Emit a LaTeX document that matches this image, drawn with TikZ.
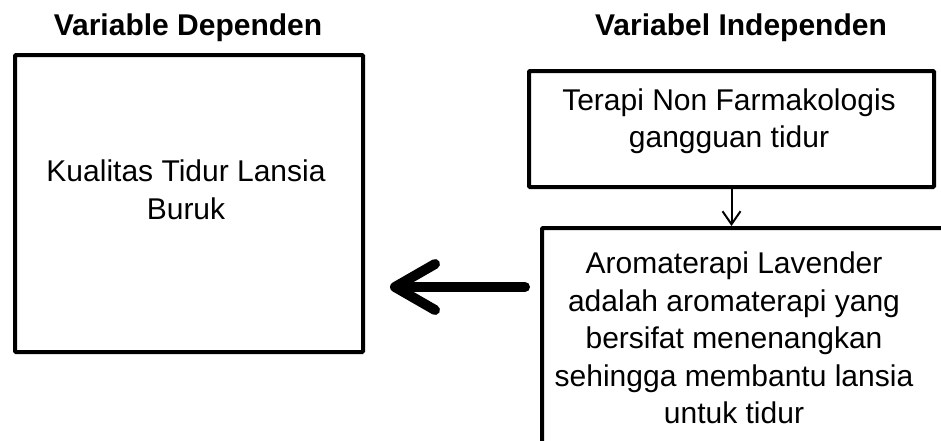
\documentclass[tikz,border=0pt]{standalone}
\usepackage{fontspec}
\setmainfont{Liberation Sans}
\usetikzlibrary{arrows.meta}
\tikzset{
  box/.style={draw=black, line width=4pt, rounded corners=1pt, anchor=north west, inner sep=0pt},
  boxtext/.style={align=center, font=\fontsize{30}{37.5}\selectfont, inner sep=0pt},
  title/.style={font=\fontsize{30}{34}\selectfont\bfseries, inner sep=0pt},
  bigarrow/.style={line width=10pt, line cap=round, line join=round, -{Straight Barb[length=40pt,width=46pt,round]}},
  smallarrow/.style={line width=2pt, -{Straight Barb[length=13pt,width=18pt]}}
}
\begin{document}
\begin{tikzpicture}[x=1pt,y=-1pt]
\useasboundingbox (0,0) rectangle (941,440);
\clip (0,0) rectangle (941,440);
\fill[white] (0,0) rectangle (941,440);
\node[title] (tdep) at (188,28) {Variable Dependen};
\node[title] (tind) at (741,28) {Variabel Independen};
% left box
\node[box, minimum width=348pt, minimum height=297pt] (dep) at (13,53) {};
\node[boxtext] (deptext) at (186,190) {Kualitas Tidur Lansia\\Buruk};
% top right box
\node[box, minimum width=405pt, minimum height=116pt] (terapi) at (527,69) {};
\node[boxtext] (terapitext) at (729,121) {Terapi Non Farmakologis\\gangguan tidur};
% lower box
\node[box, minimum width=430pt, minimum height=260pt] (aroma) at (540,226) {};
\node[boxtext] (aromatext) at (734,338) {Aromaterapi Lavender\\adalah aromaterapi yang\\bersifat menenangkan\\sehingga membantu lansia\\untuk tidur};
% connectors
\coordinate (arrowy) at (0,287);
\draw[smallarrow] (terapi.south) -- (terapi.south |- aroma.north);
\draw[bigarrow, shorten <=15pt, shorten >=25pt] (aroma.west |- arrowy) -- (dep.east |- arrowy);
\end{tikzpicture}
\end{document}
